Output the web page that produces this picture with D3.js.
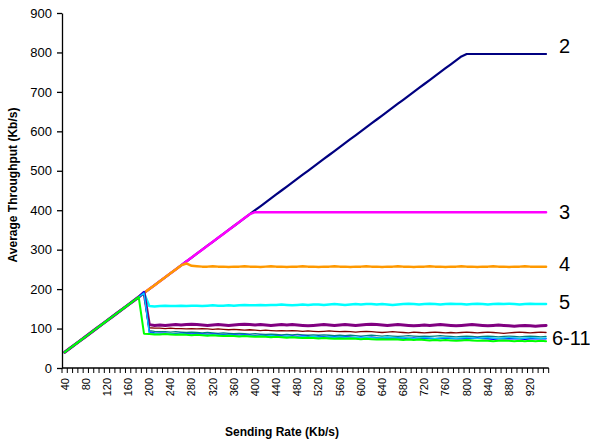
<!DOCTYPE html>
<html lang="en">
<head>
<meta charset="UTF-8">
<title>Average Throughput vs Sending Rate</title>
<script src="https://d3js.org/d3.v7.min.js"></script>
<style>
  body { margin: 0; background: #fff; }
  svg { font-family: "Liberation Sans", Arial, sans-serif; }
  .axis path, .axis line { stroke: #000; stroke-width: 1.3; }
  .axis text { fill: #000; }
  .series { fill: none; stroke-linejoin: round; stroke-linecap: round; }
  .axis-title { font-size: 12px; font-weight: bold; }
  .end-label { font-size: 20px; }
</style>
</head>
<body>
<div id="chart"></div>
<script>
// categories (sending rate, Kb/s)
const rates = [40,50,60,70,80,90,100,110,120,130,
  140,150,160,170,180,190,200,210,220,230,
  240,250,260,270,280,290,300,310,320,330,
  340,350,360,370,380,390,400,410,420,430,
  440,450,460,470,480,490,500,510,520,530,
  540,550,560,570,580,590,600,610,620,630,
  640,650,660,670,680,690,700,710,720,730,
  740,750,760,770,780,790,800,810,820,830,
  840,850,860,870,880,890,900,910,920,930,
  940,950];

const xLabels = [40,80,120,160,200,240,280,320,360,400,440,480,520,560,600,640,680,720,760,800,840,880,920];
const yTicks = [0,100,200,300,400,500,600,700,800,900];

// average throughput per number of flows
const s2 = [40,50,60,70,80,90,100,110,120,130,
  140,150,160,170,180,190,200,210,220,230,
  240,250,260,270,280,290,300,310,320,330,
  340,350,360,370,380,390,400,410,420,430,
  440,450,460,470,480,490,500,510,520,530,
  540,550,560,570,580,590,600,610,620,630,
  640,650,660,670,680,690,700,710,720,730,
  740,750,760,770,780,790,796,796,796,796,
  796,796,796,796,796,796,796,796,796,796,
  796,796];

const s3 = [40,50,60,70,80,90,100,110,120,130,
  140,150,160,170,180,190,200,210,220,230,
  240,250,260,270,280,290,300,310,320,330,
  340,350,360,370,380,390,395,395,395,395,
  395,395,395,395,395,395,395,395,395,395,
  395,395,395,395,395,395,395,395,395,395,
  395,395,395,395,395,395,395,395,395,395,
  395,395,395,395,395,395,395,395,395,395,
  395,395,395,395,395,395,395,395,395,395,
  395,395];

const s4 = [40,50,60,70,80,90,100,110,120,130,
  140,150,160,170,180,190,200,210,220,230,
  240,250,260,265,259,258,257,257,258,257,
  257,256,257,257,258,257,257,256,257,258,
  257,257,256,257,257,258,257,257,256,257,
  257,258,257,257,256,257,257,258,257,257,
  256,257,257,258,257,257,256,257,257,258,
  257,257,256,257,257,258,257,257,256,257,
  257,258,257,257,256,257,257,258,257,257,
  257,257];

const s5 = [40,50,60,70,80,90,100,110,120,130,140,150,160,170,180,190,
  157,156,157,158,157,157,158,157,158,158,
  157,158,159,158,158,159,158,159,160,159,
  159,160,159,160,160,161,160,159,160,161,
  160,161,161,160,161,162,161,160,161,162,
  161,162,162,161,162,161,160,161,162,163,
  162,161,162,163,162,161,162,163,162,162,
  161,162,163,162,161,162,163,162,163,162,
  161,162,163,162,162,162];

const s6 = [40,50,60,70,80,90,100,110,120,130,140,150,160,170,180,192,
  110,108,109,108,109,110,109,110,111,110,
  109,108,109,110,109,108,109,110,111,110,
  109,110,109,108,109,110,109,110,109,108,
  107,108,109,110,109,108,109,110,109,108,
  109,110,111,110,109,108,109,110,109,108,
  107,108,109,108,109,110,109,108,107,108,
  109,110,109,108,107,108,109,108,107,106,
  107,108,107,106,107,108];

const s7 = [40,50,60,70,80,90,100,110,120,130,140,150,160,170,180,191,
  102,101,101,100,101,100,100,99,100,99,
  100,99,98,99,98,97,98,97,96,97,
  96,95,96,95,94,95,94,95,94,93,
  94,93,92,93,94,93,92,93,92,91,
  92,93,92,91,90,91,92,91,90,89,
  91,90,89,90,91,90,89,90,89,90,
  91,90,89,90,91,90,89,88,89,90,
  91,90,89,90,91,90];

const s8 = [40,50,60,70,80,90,100,110,120,130,140,150,160,170,180,190,
  95,93,92,92,91,92,91,90,91,90,
  89,90,89,88,89,88,87,88,87,86,
  87,86,85,86,85,84,85,84,85,84,
  83,84,83,84,83,82,83,82,83,82,
  81,82,83,82,81,82,81,80,81,82,
  81,80,81,80,81,82,81,80,79,80,
  81,80,79,80,81,80,79,80,81,80,
  79,80,81,80,79,80];

const s9 = [40,50,60,70,80,90,100,110,120,130,140,150,160,170,180,193,
  91,89,88,88,87,87,88,87,86,87,
  86,85,86,85,84,85,84,83,84,83,
  82,83,82,81,82,81,80,81,80,81,
  80,79,80,79,78,79,78,79,78,77,
  78,77,78,77,76,77,76,77,76,75,
  76,75,76,75,74,75,76,75,74,75,
  74,75,76,75,74,73,74,75,74,75,
  74,73,74,75,74,74];

const s10 = [40,50,60,70,80,90,100,110,120,130,140,150,160,170,180,190,
  89,88,87,88,87,86,87,86,85,86,
  85,84,85,84,83,84,83,82,83,82,
  81,82,81,82,81,80,81,80,79,80,
  79,80,79,78,79,78,79,78,77,78,
  77,78,77,76,77,78,77,76,77,76,
  75,76,77,76,75,76,77,76,75,76,
  77,76,75,76,77,76,75,76,77,76,
  75,76,77,76,75,76];

const s11 = [40,50,60,70,80,90,100,110,120,130,140,150,160,170,180,87,
  86,85,85,86,85,84,85,84,83,84,
  83,82,83,82,81,82,81,80,81,80,
  79,80,79,78,79,78,77,78,77,76,
  77,76,75,76,75,74,75,74,75,74,
  73,74,73,72,73,72,73,72,71,72,
  71,72,71,70,71,70,71,70,69,70,
  71,70,69,70,69,68,69,70,69,68,
  69,68,69,68,69,68];

const seriesColors = ["#000080","#ff00ff","#ff9900","#00ffff","#800080","#800000","#008080","#0000ff","#00ccff","#00ff00"];
const seriesWidths = [2.2, 2.5, 2.5, 2.5, 3, 1.3, 1.3, 1.5, 1.3, 2];
const allSeries = [s2, s3, s4, s5, s6, s7, s8, s9, s10, s11];

const endLabels = [
  { text: "2", x: 559, y: 53 },
  { text: "3", x: 559, y: 219 },
  { text: "4", x: 559, y: 271 },
  { text: "5", x: 559, y: 309 },
  { text: "6-11", x: 552, y: 345 }
];

const W = 590, H = 447;
const plot = { left: 62, top: 13, right: 548.7, bottom: 368 };

const svg = d3.select("#chart").append("svg")
  .attr("width", W)
  .attr("height", H);

const x = d3.scaleBand()
  .domain(rates)
  .range([plot.left, plot.right])
  .padding(0);

const y = d3.scaleLinear()
  .domain([0, 900])
  .range([plot.bottom, plot.top]);

const cx = d => x(d) + x.bandwidth() / 2;

// y axis
svg.append("g")
  .attr("class", "axis")
  .attr("transform", `translate(${plot.left},0)`)
  .call(d3.axisLeft(y).tickValues(yTicks).tickSize(5).tickPadding(5).tickSizeOuter(0))
  .selectAll("text")
  .style("font-size", "13px");

// x axis: labels at category centers, ticks between categories
const xAxis = svg.append("g")
  .attr("class", "axis")
  .attr("transform", `translate(0,${plot.bottom})`);

xAxis.append("line")
  .attr("x1", plot.left).attr("x2", plot.right)
  .attr("y1", 0).attr("y2", 0);

xAxis.selectAll(".tick-mark")
  .data(rates.map(r => x(r)).concat([plot.right]))
  .enter()
  .append("line")
  .attr("class", "tick-mark")
  .attr("x1", d => d).attr("x2", d => d)
  .attr("y1", 0).attr("y2", 5)
  .style("stroke-width", 1);

xAxis.selectAll(".xlab")
  .data(xLabels)
  .enter()
  .append("text")
  .attr("class", "xlab")
  .attr("transform", d => `translate(${cx(d)},10) rotate(-90)`)
  .attr("text-anchor", "end")
  .attr("dy", "0.35em")
  .style("font-size", "11px")
  .text(d => d);

// lines
const line = d3.line()
  .x((d, i) => cx(rates[i]))
  .y(d => y(d));

svg.selectAll(".series")
  .data(allSeries)
  .enter()
  .append("path")
  .attr("class", "series")
  .attr("d", d => line(d))
  .attr("stroke", (d, i) => seriesColors[i])
  .attr("stroke-width", (d, i) => seriesWidths[i]);

// axis titles
svg.append("text")
  .attr("class", "axis-title")
  .attr("transform", "translate(17,185) rotate(-90)")
  .attr("text-anchor", "middle")
  .text("Average Throughput (Kb/s)");

svg.append("text")
  .attr("class", "axis-title")
  .attr("x", 282)
  .attr("y", 436)
  .attr("text-anchor", "middle")
  .text("Sending Rate (Kb/s)");

// labels at line ends
svg.selectAll(".end-label")
  .data(endLabels)
  .enter()
  .append("text")
  .attr("class", "end-label")
  .attr("x", d => d.x)
  .attr("y", d => d.y)
  .text(d => d.text);
</script>
</body>
</html>
